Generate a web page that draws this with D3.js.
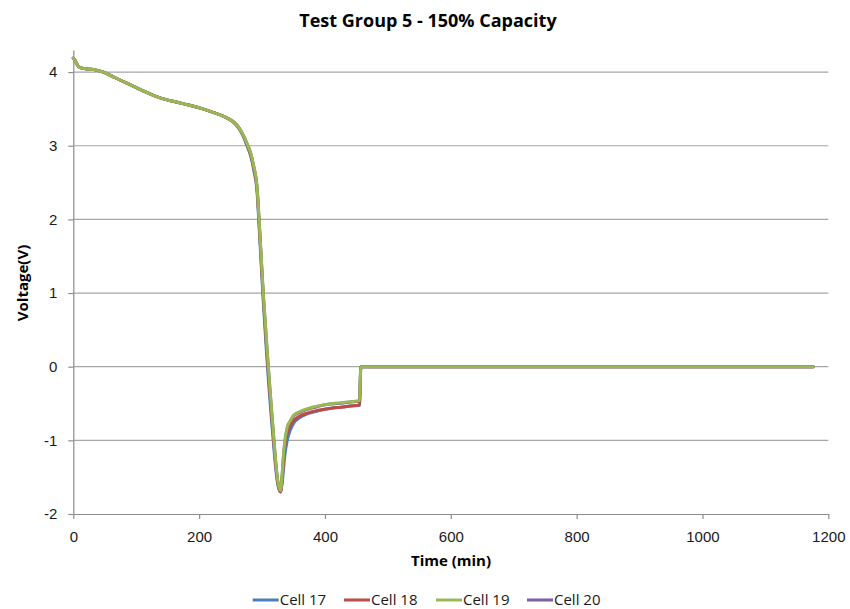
<!DOCTYPE html>
<html>
<head>
<meta charset="utf-8">
<script src="https://cdn.jsdelivr.net/npm/d3@7"></script>
<style>
  html, body { margin: 0; padding: 0; background: #fff; }
  svg { display: block; font-family: "Open Sans", sans-serif; }
</style>
</head>
<body>
<svg id="chart" width="850" height="609"></svg>
<script>
// Discharge test: voltage vs time for four cells
const title = "Test Group 5 - 150% Capacity";
const xLabel = "Time (min)";
const yLabel = "Voltage(V)";

const seriesNames = ["Cell 17", "Cell 18", "Cell 19", "Cell 20"];
const seriesColors = ["#4a7ebb", "#be4b48", "#98b954", "#7d60a0"];

const xTicks = [0, 200, 400, 600, 800, 1000, 1200];
const yTicks = [-2, -1, 0, 1, 2, 3, 4];

// sample times (min)
const time = [0, 2, 5, 9, 15, 25, 35, 48, 65, 85, 110, 138, 165, 185, 202, 220, 239, 250, 258, 265,
  271, 276, 282, 287, 292, 295, 298, 302, 306, 310, 314, 319, 323, 326, 329.5, 332, 334, 336, 340, 345,
  350, 360, 372, 385, 398, 412, 425, 440, 455, 457, 470, 600, 800, 1000, 1176];

const cell17 = [4.19, 4.17, 4.12, 4.07, 4.05, 4.04, 4.03, 4.00, 3.93, 3.85, 3.75, 3.65, 3.59, 3.55, 3.51, 3.46, 3.40, 3.35, 3.29, 3.21,
  3.11, 3.00, 2.86, 2.66, 2.38, 1.95, 1.48, 0.88, 0.33, -0.17, -0.62, -1.13, -1.48, -1.64, -1.70, -1.58, -1.40, -1.22, -1.00, -0.86,
  -0.77, -0.69, -0.64, -0.61, -0.58, -0.56, -0.55, -0.535, -0.525, 0, 0, 0, 0, 0, 0];

const cell18 = [4.19, 4.17, 4.12, 4.07, 4.05, 4.04, 4.03, 4.00, 3.93, 3.85, 3.75, 3.65, 3.59, 3.55, 3.51, 3.46, 3.40, 3.35, 3.30, 3.22,
  3.12, 3.02, 2.88, 2.69, 2.42, 2.00, 1.55, 0.95, 0.42, -0.08, -0.52, -1.05, -1.44, -1.62, -1.70, -1.52, -1.30, -1.10, -0.90, -0.80,
  -0.73, -0.67, -0.63, -0.60, -0.58, -0.56, -0.55, -0.535, -0.52, 0, 0, 0, 0, 0, 0];

const cell19 = [4.19, 4.17, 4.12, 4.07, 4.05, 4.04, 4.03, 4.00, 3.93, 3.85, 3.75, 3.65, 3.59, 3.55, 3.51, 3.46, 3.40, 3.35, 3.30, 3.22,
  3.13, 3.03, 2.90, 2.72, 2.45, 2.05, 1.60, 1.00, 0.50, 0.00, -0.45, -1.00, -1.40, -1.60, -1.68, -1.45, -1.20, -1.02, -0.82, -0.73,
  -0.66, -0.61, -0.57, -0.54, -0.52, -0.50, -0.49, -0.475, -0.46, 0, 0, 0, 0, 0, 0];

const cell20 = [4.19, 4.17, 4.12, 4.07, 4.05, 4.04, 4.03, 4.00, 3.93, 3.85, 3.75, 3.65, 3.59, 3.55, 3.51, 3.46, 3.40, 3.35, 3.30, 3.22,
  3.13, 3.03, 2.90, 2.71, 2.44, 2.04, 1.58, 0.98, 0.47, -0.02, -0.47, -1.01, -1.41, -1.61, -1.69, -1.47, -1.22, -1.04, -0.84, -0.74,
  -0.67, -0.62, -0.58, -0.55, -0.52, -0.505, -0.495, -0.48, -0.465, 0, 0, 0, 0, 0, 0];

const seriesValues = [cell17, cell18, cell19, cell20];

const svg = d3.select("#chart");
const plot = { left: 73.3, right: 828.3, top: 50, bottom: 514 };

const x = d3.scaleLinear().domain([0, 1200]).range([plot.left, plot.right]);
const y = d3.scaleLinear().domain([-2, 4.3]).range([plot.bottom, plot.top]);

const gridColor = "#a6a6a6";
const axisColor = "#8c8c8c";
const textColor = "#1a1a1a";
// plain integers with an ASCII hyphen for negatives
const fmt = d => String(d);

// horizontal gridlines
svg.append("g")
  .selectAll("line")
  .data(yTicks.filter(d => d !== -2))
  .join("line")
  .attr("x1", plot.left).attr("x2", plot.right)
  .attr("y1", d => y(d)).attr("y2", d => y(d))
  .attr("stroke", gridColor).attr("stroke-width", 1.2);

// x axis
const xAxis = svg.append("g")
  .attr("transform", `translate(0,${plot.bottom})`)
  .call(d3.axisBottom(x).tickValues(xTicks).tickFormat(fmt).tickSize(5).tickSizeOuter(0).tickPadding(12));
xAxis.select(".domain").attr("stroke", axisColor).attr("stroke-width", 1.2);
xAxis.selectAll(".tick line").attr("stroke", axisColor).attr("stroke-width", 1.2);
xAxis.selectAll(".tick text").attr("font-size", 15).attr("fill", textColor).attr("font-family", "inherit");

// y axis
const yAxis = svg.append("g")
  .attr("transform", `translate(${plot.left},0)`)
  .call(d3.axisLeft(y).tickValues(yTicks).tickFormat(fmt).tickSize(5).tickSizeOuter(0).tickPadding(11));
yAxis.select(".domain").attr("stroke", axisColor).attr("stroke-width", 1.2);
yAxis.selectAll(".tick line").attr("stroke", axisColor).attr("stroke-width", 1.2);
yAxis.selectAll(".tick text").attr("font-size", 15).attr("fill", textColor).attr("font-family", "inherit");

// series lines: Cell 20 sits underneath, then 17, 18, 19 on top
const line = d3.line()
  .x((d, i) => x(time[i]))
  .y(d => y(d))
  .curve(d3.curveMonotoneX);

const drawOrder = [3, 0, 1, 2];
svg.append("g")
  .selectAll("path")
  .data(drawOrder)
  .join("path")
  .attr("d", k => line(seriesValues[k]))
  .attr("fill", "none")
  .attr("stroke", k => seriesColors[k])
  .attr("stroke-width", 3)
  .attr("stroke-linejoin", "round")
  .attr("stroke-linecap", "round");

// title
svg.append("text")
  .attr("x", 428).attr("y", 26.5)
  .attr("text-anchor", "middle")
  .attr("font-size", 18).attr("font-weight", "bold").attr("fill", "#000")
  .text(title);

// axis titles
svg.append("text")
  .attr("x", 451).attr("y", 566)
  .attr("text-anchor", "middle")
  .attr("font-size", 15).attr("font-weight", "bold").attr("fill", "#000")
  .text(xLabel);

svg.append("text")
  .attr("transform", "translate(28,283) rotate(-90)")
  .attr("text-anchor", "middle")
  .attr("font-size", 15).attr("font-weight", "bold").attr("fill", "#000")
  .text(yLabel);

// legend
const legendX = [252.7, 344, 436, 527];
const legend = svg.append("g");
const items = legend.selectAll("g")
  .data(seriesNames)
  .join("g")
  .attr("transform", (d, i) => `translate(${legendX[i]},600)`);
items.append("line")
  .attr("x1", 0).attr("x2", 26)
  .attr("y1", 0).attr("y2", 0)
  .attr("stroke", (d, i) => seriesColors[i])
  .attr("stroke-width", 3);
items.append("text")
  .attr("x", 27).attr("y", 5)
  .attr("font-size", 15).attr("fill", textColor)
  .text(d => d);
</script>
</body>
</html>
